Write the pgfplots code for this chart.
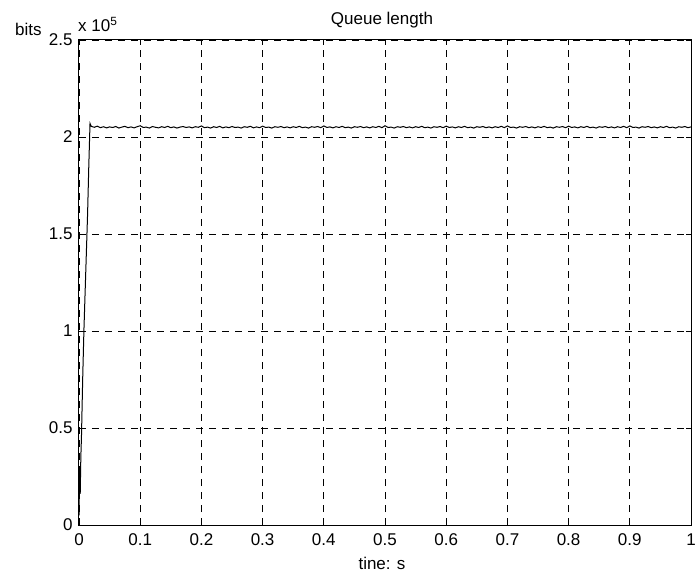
\documentclass[border=0pt]{standalone}
\usepackage{pgfplots}
\pgfplotsset{compat=1.18}
\usepackage{fontspec}
\setmainfont{Liberation Sans}
\begin{document}
\begin{tikzpicture}[x=1pt,y=1pt]
\useasboundingbox (-79,-48) rectangle (619,525);
\begin{axis}[
  at={(0,0)}, anchor=south west,
  scale only axis, width=612pt, height=485pt,
  xmin=0, xmax=1, ymin=0, ymax=2.5,
  xtick={0,0.1,...,1.0}, ytick={0,0.5,1,1.5,2,2.5},
  xticklabels={0,0.1,0.2,0.3,0.4,0.5,0.6,0.7,0.8,0.9,1},
  yticklabels={0,0.5,1,1.5,2,2.5},
  tick align=inside, tickpos=both, major tick length=5pt,
  tick style={black, line width=0.8pt},
  axis line style={black, line width=1pt},
  grid=major,
  major grid style={black, dash pattern=on 7pt off 6pt, line width=0.8pt},
  ticklabel style={font=\fontsize{17}{19}\selectfont},
  /pgf/number format/assume math mode=true,
  xticklabel style={yshift=-5pt},
  yticklabel style={xshift=-3pt},
  clip=false,
]
\addplot[black, line width=1pt] coordinates {
(0,0.05) (0.001,0.30) (0.002,0.16) (0.003,0.35) (0.004,0.45) (0.006,0.75) (0.008,1.00) (0.011,1.30) (0.014,1.60) (0.016,1.85) (0.018,2.07)
(0.020,2.055) (0.025,2.050) (0.030,2.056) (0.035,2.048) (0.040,2.053) (0.045,2.047) (0.050,2.052)
(0.055,2.049) (0.060,2.054) (0.065,2.046) (0.070,2.051) (0.075,2.055) (0.080,2.048) (0.085,2.052)
(0.090,2.047) (0.095,2.053) (0.100,2.058) (0.105,2.049) (0.110,2.051) (0.115,2.046) (0.120,2.054)
(0.125,2.050) (0.130,2.047) (0.135,2.053) (0.140,2.049) (0.145,2.055) (0.150,2.048) (0.155,2.052)
(0.160,2.046) (0.165,2.051) (0.170,2.054) (0.175,2.049) (0.180,2.052) (0.185,2.047) (0.190,2.053)
(0.195,2.050) (0.200,2.057) (0.205,2.048) (0.210,2.051) (0.215,2.046) (0.220,2.053) (0.225,2.049)
(0.230,2.055) (0.235,2.047) (0.240,2.052) (0.245,2.048) (0.250,2.054) (0.255,2.049) (0.260,2.051)
(0.265,2.046) (0.270,2.053) (0.275,2.050) (0.280,2.055) (0.285,2.047) (0.290,2.052) (0.295,2.048)
(0.300,2.056) (0.305,2.049) (0.310,2.051) (0.315,2.046) (0.320,2.053) (0.325,2.050) (0.330,2.054)
(0.335,2.048) (0.340,2.052) (0.345,2.047) (0.350,2.053) (0.355,2.049) (0.360,2.055) (0.365,2.048)
(0.370,2.051) (0.375,2.046) (0.380,2.053) (0.385,2.050) (0.390,2.054) (0.395,2.048) (0.400,2.057)
(0.405,2.049) (0.410,2.052) (0.415,2.047) (0.420,2.053) (0.425,2.049) (0.430,2.055) (0.435,2.048)
(0.440,2.051) (0.445,2.046) (0.450,2.053) (0.455,2.050) (0.460,2.054) (0.465,2.048) (0.470,2.052)
(0.475,2.047) (0.480,2.053) (0.485,2.049) (0.490,2.055) (0.495,2.048) (0.500,2.058) (0.505,2.049)
(0.510,2.051) (0.515,2.046) (0.520,2.053) (0.525,2.050) (0.530,2.054) (0.535,2.048) (0.540,2.052)
(0.545,2.047) (0.550,2.053) (0.555,2.049) (0.560,2.055) (0.565,2.048) (0.570,2.051) (0.575,2.046)
(0.580,2.053) (0.585,2.050) (0.590,2.054) (0.595,2.048) (0.600,2.056) (0.605,2.049) (0.610,2.052)
(0.615,2.047) (0.620,2.053) (0.625,2.049) (0.630,2.055) (0.635,2.048) (0.640,2.051) (0.645,2.046)
(0.650,2.053) (0.655,2.050) (0.660,2.054) (0.665,2.048) (0.670,2.052) (0.675,2.047) (0.680,2.053)
(0.685,2.049) (0.690,2.055) (0.695,2.048) (0.700,2.057) (0.705,2.049) (0.710,2.051) (0.715,2.046)
(0.720,2.053) (0.725,2.050) (0.730,2.054) (0.735,2.048) (0.740,2.052) (0.745,2.047) (0.750,2.053)
(0.755,2.049) (0.760,2.055) (0.765,2.048) (0.770,2.051) (0.775,2.046) (0.780,2.053) (0.785,2.050)
(0.790,2.054) (0.795,2.048) (0.800,2.056) (0.805,2.049) (0.810,2.052) (0.815,2.047) (0.820,2.053)
(0.825,2.049) (0.830,2.055) (0.835,2.048) (0.840,2.051) (0.845,2.046) (0.850,2.053) (0.855,2.050)
(0.860,2.054) (0.865,2.048) (0.870,2.052) (0.875,2.047) (0.880,2.053) (0.885,2.049) (0.890,2.055)
(0.895,2.048) (0.900,2.057) (0.905,2.049) (0.910,2.051) (0.915,2.046) (0.920,2.053) (0.925,2.050)
(0.930,2.054) (0.935,2.048) (0.940,2.052) (0.945,2.047) (0.950,2.053) (0.955,2.049) (0.960,2.055)
(0.965,2.048) (0.970,2.051) (0.975,2.046) (0.980,2.053) (0.985,2.050) (0.990,2.054) (0.995,2.048)
(1.000,2.052)
};
\end{axis}
\node[anchor=base, font=\fontsize{17}{19}\selectfont] at (303,500) {Queue length};
\node[anchor=base, font=\fontsize{17}{19}\selectfont, inner sep=0pt] at (303,-44) {tine: s};
\node[anchor=base west, font=\fontsize{17}{19}\selectfont, inner sep=0pt] at (-64,489) {bits};
\node[anchor=base west, font=\fontsize{17}{19}\selectfont, inner sep=0pt] at (-1,493) {x 10$^{\mathrm{5}}$};
\end{tikzpicture}
\end{document}
